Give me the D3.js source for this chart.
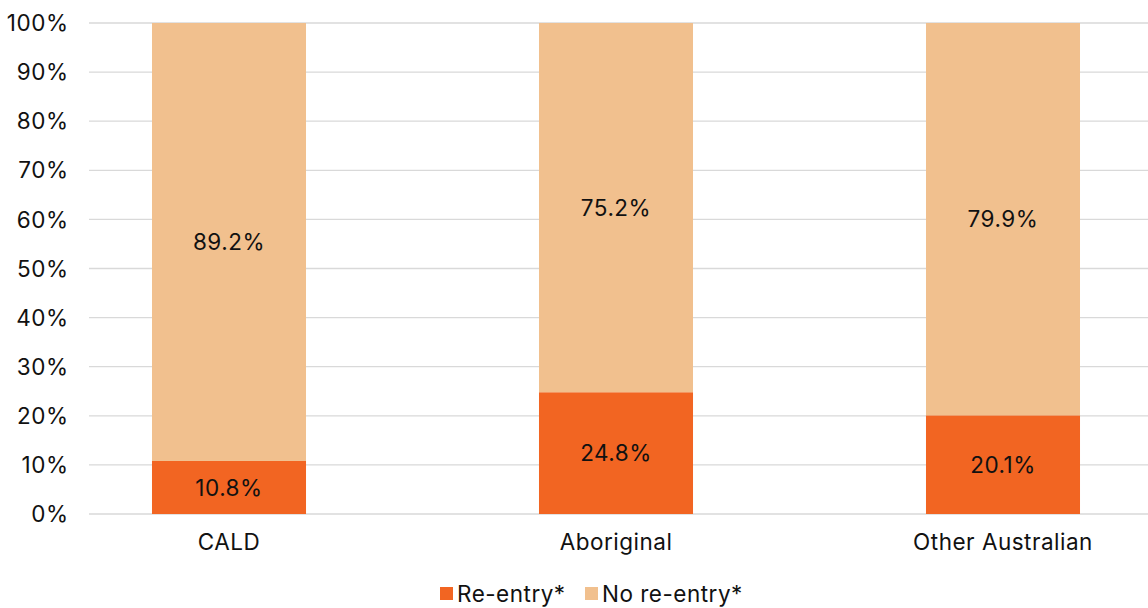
<!DOCTYPE html>
<html><head><meta charset="utf-8">
<script src="https://cdn.jsdelivr.net/npm/d3@7"></script>
<style>body{margin:0;background:#fff}svg{display:block}text{font-family:Inter,"Liberation Sans",sans-serif;fill:#111;letter-spacing:0.5px}</style>
</head><body><svg id="c" width="1148" height="608"></svg>
<script>
const categories = ["CALD", "Aboriginal", "Other Australian"];
const reEntry = [10.8, 24.8, 20.1];
const noReEntry = [89.2, 75.2, 79.9];
const yTicks = [0,10,20,30,40,50,60,70,80,90,100];
const seriesNames = ["Re-entry*", "No re-entry*"];
const colors = ["#F26522", "#F1C08E"];
const FS = 22.5;

const svg = d3.select("#c");
const y = d3.scaleLinear().domain([0,100]).range([514,23]);
const x = d3.scaleBand().domain(categories).range([35.5, 1196.5]).paddingInner(0.602).paddingOuter(0.301);

svg.append("g").selectAll("line").data(yTicks).join("line")
  .attr("x1",89).attr("x2",1148).attr("y1",d=>y(d)).attr("y2",d=>y(d))
  .attr("stroke","#d9d9d9").attr("stroke-width",1.3);

svg.append("g").selectAll("text").data(yTicks).join("text")
  .attr("x",68.5).attr("y",d=>y(d)).attr("dy","0.36em").attr("text-anchor","end")
  .attr("font-size",FS).text(d=>d+"%");

const stacked = categories.map((c,i)=>({c, parts:[{k:0,y0:0,y1:reEntry[i],v:reEntry[i]},{k:1,y0:reEntry[i],y1:reEntry[i]+noReEntry[i],v:noReEntry[i]}]}));
const g = svg.append("g");
stacked.forEach(s=>{
  s.parts.forEach(p=>{
    g.append("rect").attr("x",x(s.c)).attr("width",x.bandwidth())
      .attr("y",y(p.y1)).attr("height",y(p.y0)-y(p.y1)).attr("fill",colors[p.k]);
    g.append("text").attr("x",x(s.c)+x.bandwidth()/2).attr("y",y((p.y0+p.y1)/2)).attr("dy","0.36em")
      .attr("text-anchor","middle").attr("font-size",FS).text(p.v.toFixed(1)+"%");
  });
});

svg.append("g").selectAll("text").data(categories).join("text")
  .attr("x",d=>x(d)+x.bandwidth()/2).attr("y",542).attr("dy","0.36em").attr("text-anchor","middle")
  .attr("font-size",FS).text(d=>d);

const leg = svg.append("g");
const lx = [440, 585];
seriesNames.forEach((n,i)=>{
  leg.append("rect").attr("x",lx[i]).attr("y",587).attr("width",13).attr("height",13).attr("fill",colors[i]);
  leg.append("text").attr("x",lx[i]+17).attr("y",594).attr("dy","0.36em").attr("font-size",FS).text(n);
});
</script></body></html>
